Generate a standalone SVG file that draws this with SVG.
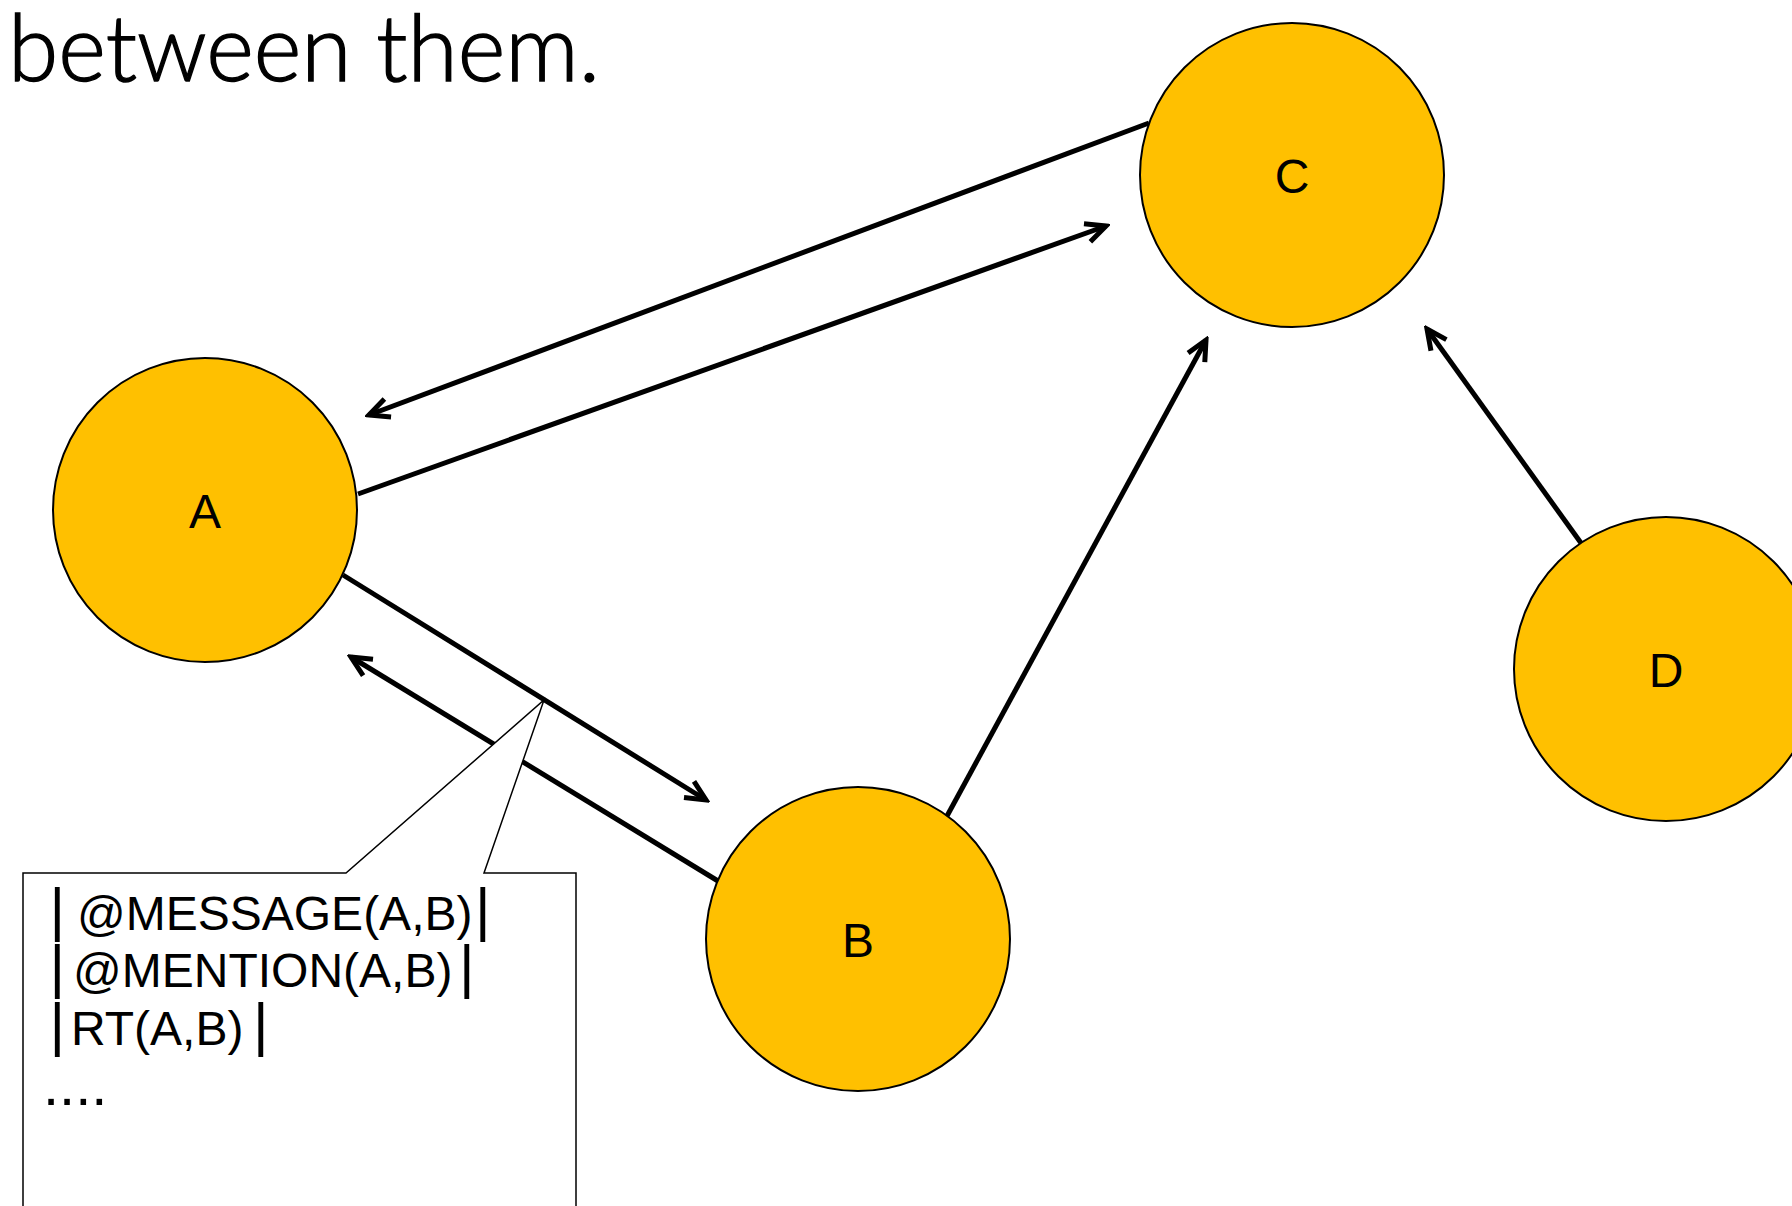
<svg xmlns="http://www.w3.org/2000/svg" width="1792" height="1206" viewBox="0 0 1792 1206">
<style>
.node{fill:#FFC000;stroke:#000;stroke-width:2}
.lbl{font-family:"Liberation Sans",Arial,sans-serif;font-size:48px;fill:#000;text-anchor:middle}
.edge{stroke:#000;stroke-width:5;fill:none}
.ct{font-family:"Liberation Sans",Arial,sans-serif;font-size:48px;fill:#000}
.bar{font-size:60px}
.dots{font-family:"Liberation Sans",Arial,sans-serif;font-size:58px;fill:#000}
</style>
<defs>
<marker id="ah" markerUnits="userSpaceOnUse" viewBox="-28 -15 32 30" refX="0" refY="0" markerWidth="32" markerHeight="30" orient="auto">
<path d="M-20,-9.5 L0,0 L-20,9.5" fill="none" stroke="#000" stroke-width="5" stroke-linejoin="miter"/>
</marker>
</defs>
<rect width="1792" height="1206" fill="#fff"/>
<text x="8" y="81" font-family="Lato,'Open Sans',sans-serif" font-weight="300" font-size="92" stroke="#000" stroke-width="1.4" textLength="592" lengthAdjust="spacingAndGlyphs">between them.</text>
<g id="connectors">
<line class="edge" x1="1149" y1="123" x2="369" y2="415" marker-end="url(#ah)"/>
<line class="edge" x1="358" y1="494" x2="1106" y2="226" marker-end="url(#ah)"/>
<line class="edge" x1="343" y1="575" x2="706" y2="800" marker-end="url(#ah)"/>
<line class="edge" x1="718" y1="881" x2="351" y2="657" marker-end="url(#ah)"/>
<line class="edge" x1="947" y1="816" x2="1206" y2="340" marker-end="url(#ah)"/>
<line class="edge" x1="1581" y1="543" x2="1427" y2="329" marker-end="url(#ah)"/>
</g>
<g id="callout">
<path d="M23,873 L346,873 L544,700 L484,873 L576,873 L576,1220 L23,1220 Z" fill="#fff" stroke="#000" stroke-width="1.5"/>
<text class="ct" y="930"><tspan class="bar" x="49.5">|</tspan><tspan x="77">@MESSAGE(A,B)</tspan><tspan class="bar" x="475">|</tspan></text>
<text class="ct" y="987"><tspan class="bar" x="49.5">|</tspan><tspan x="73">@MENTION(A,B)</tspan><tspan class="bar" x="459">|</tspan></text>
<text class="ct" y="1045"><tspan class="bar" x="49.5">|</tspan><tspan x="71">RT(A,B)</tspan><tspan class="bar" x="253">|</tspan></text>
<text class="dots" x="43" y="1105">....</text>
</g>
<g id="node-A"><circle class="node" cx="205" cy="510" r="152"/><text class="lbl" x="205" y="528">A</text></g>
<g id="node-B"><circle class="node" cx="858" cy="939" r="152"/><text class="lbl" x="858" y="957">B</text></g>
<g id="node-C"><circle class="node" cx="1292" cy="175" r="152"/><text class="lbl" x="1292" y="193">C</text></g>
<g id="node-D"><circle class="node" cx="1666" cy="669" r="152"/><text class="lbl" x="1666" y="687">D</text></g>
</svg>
